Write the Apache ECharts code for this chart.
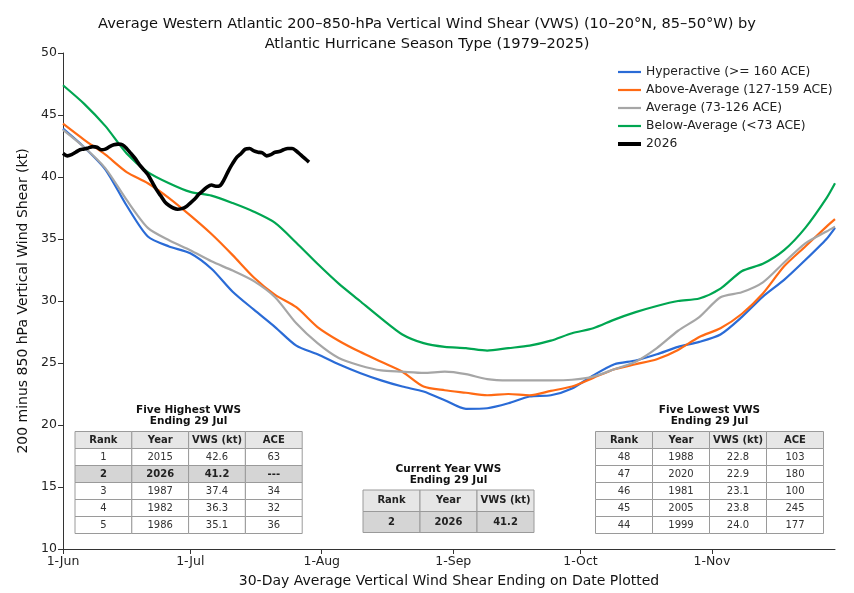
<!DOCTYPE html>
<html>
<head>
<meta charset="utf-8">
<script src="https://cdn.jsdelivr.net/npm/echarts@6/dist/echarts.min.js"></script>
<style>
  html, body { margin: 0; padding: 0; background: #fff; }
  #main { width: 854px; height: 593px; }
</style>
</head>
<body>
<div id="main"></div>
<script>
// days since 1-Jun at which the curves were read
var sampleDays = [0, 5, 10, 15, 20, 25, 30, 35, 40, 45, 50, 55, 60, 65, 70, 75, 80, 85, 90,
  95, 100, 105, 110, 115, 120, 125, 130, 135, 140, 145, 150, 155, 160, 165, 170, 175, 180, 182];

var hyperactive = [43.9, 42.4, 40.6, 37.7, 35.2, 34.4, 33.85, 32.6, 30.75, 29.3, 27.9, 26.4, 25.7, 24.9,
  24.2, 23.6, 23.1, 22.7, 22.0, 21.3, 21.35, 21.75, 22.3, 22.4, 22.95, 24.0, 24.9, 25.2, 25.7, 26.3,
  26.7, 27.3, 28.7, 30.35, 31.7, 33.3, 35.0, 35.9];
var aboveAverage = [44.3, 43.0, 41.8, 40.4, 39.5, 38.3, 36.9, 35.4, 33.7, 31.9, 30.5, 29.5, 27.9, 26.8,
  25.9, 25.1, 24.3, 23.1, 22.8, 22.6, 22.4, 22.5, 22.4, 22.75, 23.1, 23.8, 24.5, 24.9, 25.3, 26.05,
  27.1, 27.8, 28.95, 30.6, 32.8, 34.4, 36.0, 36.6];
var average = [43.8, 42.4, 40.7, 38.15, 35.9, 34.9, 34.1, 33.2, 32.45, 31.6, 30.3, 28.2, 26.6, 25.4,
  24.8, 24.4, 24.3, 24.2, 24.3, 24.1, 23.7, 23.6, 23.6, 23.6, 23.65, 23.9, 24.5, 25.1, 26.2, 27.6,
  28.7, 30.3, 30.7, 31.5, 33.1, 34.65, 35.6, 36.0];
var belowAverage = [47.4, 45.9, 44.1, 41.9, 40.4, 39.5, 38.8, 38.5, 37.9, 37.2, 36.3, 34.7, 33.0, 31.4,
  30.0, 28.6, 27.3, 26.6, 26.3, 26.2, 26.0, 26.2, 26.4, 26.8, 27.4, 27.8, 28.5, 29.1, 29.6, 30.0,
  30.2, 31.0, 32.4, 33.0, 34.1, 35.9, 38.3, 39.5];

// 2026, daily from 1-Jun to 29-Jul
var year2026 = [41.9, 41.7, 41.8, 42.0, 42.2, 42.25, 42.35, 42.45, 42.4, 42.2, 42.25, 42.45, 42.6, 42.65,
  42.6, 42.3, 41.9, 41.5, 41.0, 40.6, 40.2, 39.6, 39.0, 38.5, 38.0, 37.7, 37.5, 37.4, 37.45, 37.6,
  37.9, 38.2, 38.6, 38.9, 39.2, 39.35, 39.25, 39.3, 39.8, 40.5, 41.1, 41.6, 41.9, 42.25, 42.3, 42.1,
  42.0, 41.95, 41.7, 41.8, 42.0, 42.05, 42.2, 42.3, 42.3, 42.1, 41.8, 41.5, 41.2];

var monthTickDays = [0, 30, 61, 92, 122, 153];
var monthTickLabels = ['1-Jun', '1-Jul', '1-Aug', '1-Sep', '1-Oct', '1-Nov'];

var tableHeader = ['Rank', 'Year', 'VWS (kt)', 'ACE'];
var highestRows = [
  ['1', '2015', '42.6', '63'],
  ['2', '2026', '41.2', '---'],
  ['3', '1987', '37.4', '34'],
  ['4', '1982', '36.3', '32'],
  ['5', '1986', '35.1', '36']
];
var lowestRows = [
  ['48', '1988', '22.8', '103'],
  ['47', '2020', '22.9', '180'],
  ['46', '1981', '23.1', '100'],
  ['45', '2005', '23.8', '245'],
  ['44', '1999', '24.0', '177']
];
var currentHeader = ['Rank', 'Year', 'VWS (kt)'];
var currentRows = [['2', '2026', '41.2']];

function pairs(days, vals) {
  return vals.map(function (v, i) { return [days[i], v]; });
}

var font = 'DejaVu Sans';

// build a table as graphic elements
function makeTable(x, y, colW, rowHs, header, rows, title, titleTop, boldRow) {
  var els = [];
  var w = colW * header.length;
  els.push({
    type: 'text', x: x + w / 2, y: titleTop,
    style: { text: title, font: 'bold 10.5px ' + font, fill: '#111', align: 'center',
      verticalAlign: 'top', lineHeight: 11 }
  });
  var all = [header].concat(rows);
  var cy = y;
  all.forEach(function (row, r) {
    var h = rowHs[r];
    var fill = r === 0 ? '#e6e6e6' : (r - 1 === boldRow ? '#d5d5d5' : '#ffffff');
    var bold = r === 0 || r - 1 === boldRow;
    row.forEach(function (cell, c) {
      els.push({
        type: 'rect',
        shape: { x: x + c * colW, y: cy, width: colW, height: h },
        style: { fill: fill, stroke: '#9a9a9a', lineWidth: 1 }
      });
      els.push({
        type: 'text',
        x: x + c * colW + colW / 2, y: cy + h / 2,
        style: {
          text: cell, font: (bold ? 'bold ' : '') + '10px ' + font,
          fill: bold ? '#222' : '#333', align: 'center', verticalAlign: 'middle'
        }
      });
    });
    cy += h;
  });
  return els;
}

var graphics = []
  .concat(makeTable(75, 431.5, 56.8, [17, 17, 17, 17, 17, 17], tableHeader, highestRows,
    'Five Highest VWS\nEnding 29 Jul', 404.5, 1))
  .concat(makeTable(595.5, 431.5, 57, [17, 17, 17, 17, 17, 17], tableHeader, lowestRows,
    'Five Lowest VWS\nEnding 29 Jul', 404.5, -1))
  .concat(makeTable(363, 490, 57, [21.5, 21], currentHeader, currentRows,
    'Current Year VWS\nEnding 29 Jul', 463.5, 0));

var chart = echarts.init(document.getElementById('main'));

chart.setOption({
  backgroundColor: '#fff',
  animation: false,
  textStyle: { fontFamily: font },
  title: {
    text: 'Average Western Atlantic 200\u2013850-hPa Vertical Wind Shear (VWS) (10\u201320\u00b0N, 85\u201350\u00b0W) by\nAtlantic Hurricane Season Type (1979\u20132025)',
    left: 'center', top: 9,
    textStyle: { fontSize: 14.6, fontWeight: 'normal', color: '#111', lineHeight: 20, fontFamily: font, align: 'center' }
  },
  legend: {
    orient: 'vertical', left: 611, top: 61, itemGap: 6,
    itemWidth: 23, itemHeight: 12,
    itemStyle: { opacity: 0 },
    textStyle: { fontSize: 12.3, color: '#222', fontFamily: font },
    data: [
      { name: 'Hyperactive (>= 160 ACE)', lineStyle: { width: 2.2 } },
      { name: 'Above-Average (127-159 ACE)', lineStyle: { width: 2.2 } },
      { name: 'Average (73-126 ACE)', lineStyle: { width: 2.2 } },
      { name: 'Below-Average (<73 ACE)', lineStyle: { width: 2.2 } },
      { name: '2026', lineStyle: { width: 4 } }
    ]
  },
  grid: { left: 63, right: 19, top: 53, bottom: 44 },
  xAxis: {
    type: 'value', min: 0, max: 182,
    name: '30-Day Average Vertical Wind Shear Ending on Date Plotted',
    nameLocation: 'middle', nameGap: 25,
    nameTextStyle: { fontSize: 14, color: '#111', fontFamily: font },
    splitLine: { show: false },
    axisLine: { lineStyle: { color: '#333' } },
    axisTick: { customValues: monthTickDays, length: 5, lineStyle: { color: '#333' } },
    axisLabel: {
      customValues: monthTickDays, fontSize: 12.5, color: '#222', margin: 6,
      formatter: function (v) { return monthTickLabels[monthTickDays.indexOf(v)]; }
    }
  },
  yAxis: {
    type: 'value', min: 10, max: 50, interval: 5,
    name: '200 minus 850 hPa Vertical Wind Shear (kt)',
    nameLocation: 'middle', nameGap: 29,
    nameTextStyle: { fontSize: 14, color: '#111', fontFamily: font },
    splitLine: { show: false },
    axisLine: { show: true, lineStyle: { color: '#333' } },
    axisTick: { show: true, length: 5, lineStyle: { color: '#333' } },
    axisLabel: { fontSize: 12.5, color: '#222', margin: 6 }
  },
  series: [
    { name: 'Hyperactive (>= 160 ACE)', type: 'line', data: pairs(sampleDays, hyperactive),
      smooth: 0.25, symbol: 'none', color: '#2a6bd6', lineStyle: { width: 2.2 } },
    { name: 'Above-Average (127-159 ACE)', type: 'line', data: pairs(sampleDays, aboveAverage),
      smooth: 0.25, symbol: 'none', color: '#ff6a14', lineStyle: { width: 2.2 } },
    { name: 'Average (73-126 ACE)', type: 'line', data: pairs(sampleDays, average),
      smooth: 0.25, symbol: 'none', color: '#a6a6a6', lineStyle: { width: 2.2 } },
    { name: 'Below-Average (<73 ACE)', type: 'line', data: pairs(sampleDays, belowAverage),
      smooth: 0.25, symbol: 'none', color: '#00a651', lineStyle: { width: 2.2 } },
    { name: '2026', type: 'line', data: year2026.map(function (v, i) { return [i, v]; }),
      smooth: 0.3, symbol: 'none', color: '#000', lineStyle: { width: 3.6 } }
  ],
  graphic: graphics
});
</script>
</body>
</html>
